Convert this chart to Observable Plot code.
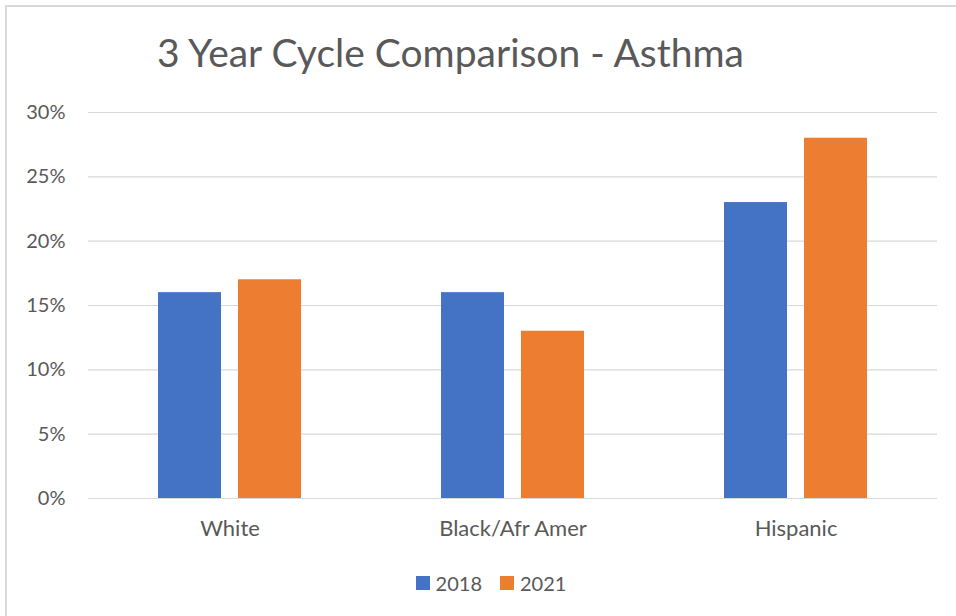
<!DOCTYPE html>
<html>
<head>
<meta charset="utf-8">
<script src="https://cdn.jsdelivr.net/npm/d3@7"></script>
<script src="https://cdn.jsdelivr.net/npm/@observablehq/plot@0.6"></script>
<style>
  html, body { margin: 0; padding: 0; background: #fff; width: 956px; height: 616px; overflow: hidden; }
  body { position: relative; font-family: Lato, "Open Sans", sans-serif; color: #595959; }
  #frame { position: absolute; left: 5px; top: 5px; width: 1000px; height: 700px; border: 2px solid #d9d9d9; box-sizing: border-box; }
  #title { position: absolute; left: 157px; top: 33px; font-size: 39px; line-height: 1; white-space: nowrap; color: #595959; }
  #chart { position: absolute; left: 0; top: 90px; }
  #chart g[aria-label="fx-axis tick label"] { font-size: 22px; }
  #legend { position: absolute; left: 0; width: 982px; top: 572px; display: flex; justify-content: center; gap: 18px; font-size: 20px; line-height: 22px; }
  .item { display: flex; align-items: center; gap: 6px; }
  .sw { width: 14px; height: 14px; display: inline-block; }
</style>
</head>
<body>
<div id="frame"></div>
<div id="title">3 Year Cycle Comparison - Asthma</div>
<div id="chart"></div>
<div id="legend"></div>
<script>
const categories = ["White", "Black/Afr Amer", "Hispanic"];
const years = ["2018", "2021"];
const values2018 = [16, 16, 23];
const values2021 = [17, 13, 28];
const yTicks = [0, 5, 10, 15, 20, 25, 30];
const colors = ["#4472C4", "#ED7D31"];

const data = [];
categories.forEach((c, i) => {
  data.push({category: c, year: years[0], value: values2018[i]});
  data.push({category: c, year: years[1], value: values2021[i]});
});

const chart = Plot.plot({
  width: 956,
  height: 470,
  marginLeft: 88,
  marginRight: 19,
  marginTop: 22,
  marginBottom: 62,
  style: {fontFamily: "Lato, 'Open Sans', sans-serif", fontSize: "20px", color: "#595959", background: "transparent", overflow: "visible"},
  fx: {domain: categories, padding: 0, label: null, axis: "bottom", tickSize: 0, tickPadding: 22},
  x: {domain: years, paddingInner: 0.215, paddingOuter: 0.862, axis: null},
  y: {domain: [0, 30], ticks: yTicks, tickFormat: d => d + "%", label: null, tickSize: 0, tickPadding: 23},
  color: {domain: years, range: colors},
  marks: [
    Plot.gridY(yTicks, {stroke: "#d9d9d9", strokeOpacity: 1, strokeWidth: 1.2}),
    Plot.barY(data, {fx: "category", x: "year", y: "value", fill: "year"})
  ]
});
document.getElementById("chart").appendChild(chart);

const legend = document.getElementById("legend");
years.forEach((y, i) => {
  const item = document.createElement("div");
  item.className = "item";
  const sw = document.createElement("span");
  sw.className = "sw";
  sw.style.background = colors[i];
  const t = document.createElement("span");
  t.textContent = y;
  item.appendChild(sw);
  item.appendChild(t);
  legend.appendChild(item);
});
</script>
</body>
</html>
